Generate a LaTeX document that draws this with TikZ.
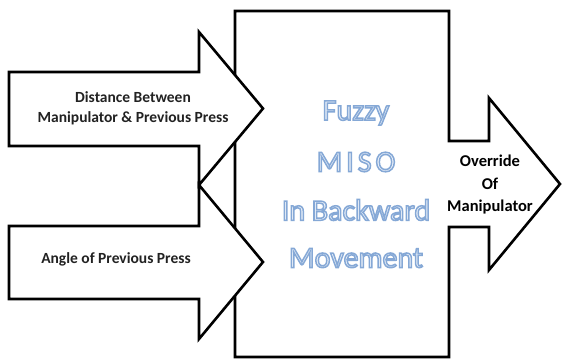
\documentclass[tikz,border=0pt]{standalone}
\usepackage{fontspec}
\setmainfont{Carlito}
\definecolor{lbl}{HTML}{222222}
\definecolor{fuzfill}{HTML}{EEF3FA}
\newcommand\outlinetext[1]{\special{pdf:literal direct 2 Tr 1.5 w 0.52 0.66 0.84 RG}#1\special{pdf:literal direct 0 Tr}}
\begin{document}
\begin{tikzpicture}[x=1pt,y=-1pt,
  shapeline/.style={draw=black,line width=2.6pt,fill=white,line join=miter},
  lbltext/.style={font=\bfseries\fontsize{15.5}{20}\selectfont,text=lbl,align=center,inner sep=0pt},
  outtext/.style={font=\bfseries\fontsize{16.5}{22.5}\selectfont,text=black,align=center,inner sep=0pt},
  fuzzytext/.style={font=\fontsize{30}{48}\selectfont,text=fuzfill,align=center,inner sep=0pt}]
\useasboundingbox (0,0) rectangle (562,363);
% box with output arrow
\draw[shapeline] (235,11) -- (449,11) -- (449,141) -- (489,141) -- (489,98)
  -- (560,184) -- (489,270) -- (489,227) -- (449,227) -- (449,357)
  -- (235,357) -- cycle;
% top input arrow
\draw[shapeline] (9,72) -- (199,72) -- (199,32) -- (263,108.5) -- (199,185)
  -- (199,146) -- (9,146) -- cycle;
% bottom input arrow
\draw[shapeline] (9,226) -- (199,226) -- (199,185) -- (263,262) -- (199,339)
  -- (199,299) -- (9,299) -- cycle;
\node[lbltext] (in1) at (133,108) {Distance Between\\Manipulator \& Previous Press};
\node[lbltext] (in2) at (116,259) {Angle of Previous Press};
\node[outtext] (out) at (490,185) {Override\\Of\\Manipulator};
\node[fuzzytext] (f1) at (356,113) {\outlinetext{Fuzzy}};
\node[fuzzytext] (f2) at (356,162) {\outlinetext{M\hspace{4pt}I\hspace{4pt}S\hspace{4pt}O}};
\node[fuzzytext] (f3) at (356,210) {\outlinetext{In Backward}};
\node[fuzzytext] (f4) at (356,258) {\outlinetext{Movement}};
\end{tikzpicture}
\end{document}
